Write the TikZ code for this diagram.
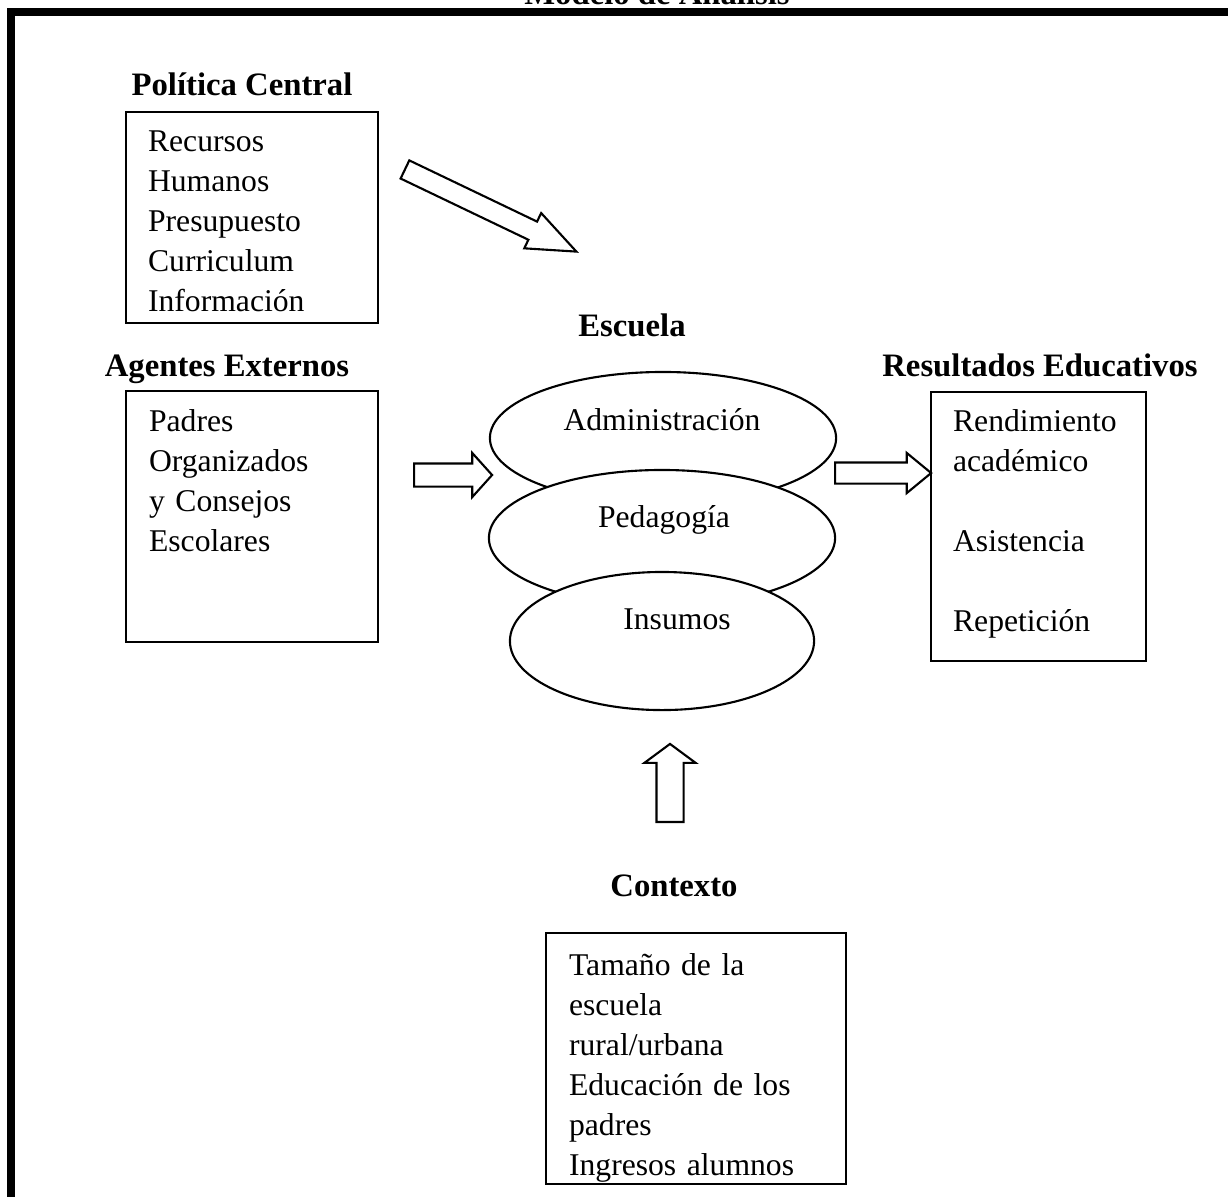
\documentclass[tikz,border=0pt]{standalone}
\usepackage{fontspec}
\setmainfont{Liberation Serif}
\usetikzlibrary{shapes, positioning}

\tikzset{
  box/.style={rectangle, draw, inner sep=0pt, anchor=north west},
  items/.style={text width=3cm, align=left, inner sep=0pt, anchor=base west, font=\fontsize{9}{11.38}\selectfont},
  head/.style={inner sep=0pt, anchor=base, font=\fontsize{9.3}{11}\selectfont\bfseries},
  oval/.style={ellipse, draw, fill=white, inner sep=0pt},
  ovaltext/.style={inner sep=0pt, anchor=base, font=\fontsize{9}{11}\selectfont},
  blockarrow/.style={single arrow, draw, fill=white, inner xsep=0pt, anchor=tail}
}

\begin{document}
\begin{tikzpicture}[x=0.01cm, y=-0.01cm, line width=0.6pt]
    \useasboundingbox (0,0) rectangle (1228,1196);

    % frame and title
    \node[head] (title) at (657,4) {Modelo de Análisis};
    \draw[line width=0.08cm] (1240,12) -- (11,12) -- (11,1210);

    % left column
    \node[head] (polHead) at (242,95) {Política Central};
    \node[box, minimum width=2.52cm, minimum height=2.11cm] (polBox) at (125,111) {};
    \node[items] (polList) at ([xshift=0.22cm, yshift=-0.40cm]polBox.north west)
        {Recursos\\Humanos\\Presupuesto\\Curriculum\\Información};

    \node[head] (extHead) at (227,376) {Agentes Externos};
    \node[box, minimum width=2.52cm, minimum height=2.51cm] (extBox) at (125,390) {};
    \node[items] (extList) at ([xshift=0.23cm, yshift=-0.41cm]extBox.north west)
        {Padres\\Organizados\\y Consejos\\Escolares};

    % school
    \node[head] (escHead) at (632,336) {Escuela};
    \node[oval, minimum width=3.46cm, minimum height=1.32cm] (adm) at (663,438) {};
    \node[ovaltext] (admText) at (662,430) {Administración};
    \node[oval, minimum width=3.46cm, minimum height=1.36cm] (ped) at (662,538) {};
    \node[ovaltext] (pedText) at (664,527) {Pedagogía};
    \node[oval, minimum width=3.04cm, minimum height=1.38cm] (ins) at (662,641) {};
    \node[ovaltext] (insText) at (677,629) {Insumos};

    % results
    \node[head] (resHead) at (1040,376) {Resultados Educativos};
    \node[box, minimum width=2.15cm, minimum height=2.69cm] (resBox) at (930,391) {};
    \node[items] (resList) at ([xshift=0.22cm, yshift=-0.40cm]resBox.north west)
        {Rendimiento\\académico\\[0.4cm]Asistencia\\[0.4cm]Repetición};

    % context
    \node[head] (ctxHead) at (674,896) {Contexto};
    \node[box, minimum width=3.00cm, minimum height=2.51cm] (ctxBox) at (545,932) {};
    \begin{scope}
        \clip ([shift={(0.01cm,-0.01cm)}]ctxBox.north west) rectangle ([shift={(-0.01cm,0.01cm)}]ctxBox.south east);
        \node[items] (ctxList) at ([xshift=0.23cm, yshift=-0.43cm]ctxBox.north west)
            {Tamaño de la\\escuela\\rural/urbana\\Educación de los\\padres\\Ingresos alumnos};
    \end{scope}

    % block arrows
    \node[blockarrow, rotate=-25.6, minimum height=1.90cm, inner ysep=0.09cm,
          single arrow head extend=0.095cm, single arrow tip angle=44] (polArrow) at (404,169) {};
    \node[blockarrow, minimum height=0.78cm, inner ysep=0.105cm,
          single arrow head extend=0.105cm, single arrow tip angle=96] (extArrow) at (413,475) {};
    \node[blockarrow, minimum height=0.96cm, inner ysep=0.095cm,
          single arrow head extend=0.095cm, single arrow tip angle=79] (resArrow) at (834,473) {};
    \node[blockarrow, rotate=90, minimum height=0.78cm, inner ysep=0.125cm,
          single arrow head extend=0.12cm, single arrow tip angle=107] (ctxArrow) at (670,823) {};
\end{tikzpicture}
\end{document}
